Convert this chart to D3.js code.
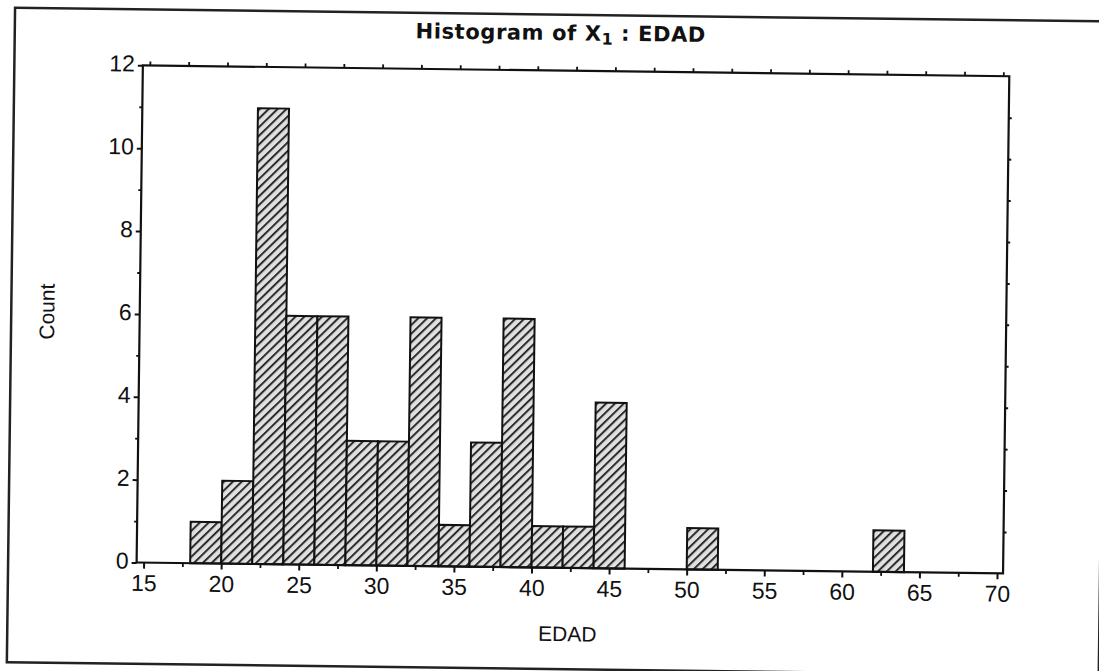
<!DOCTYPE html>
<html>
<head>
<meta charset="utf-8">
<script src="https://cdn.jsdelivr.net/npm/d3@7"></script>
<style>
  html, body { margin: 0; padding: 0; background: #fff; }
  svg { display: block; }
</style>
</head>
<body>
<svg id="chart" width="1099" height="671"></svg>
<script>
// ---- data ----
const binStarts = [18, 20, 22, 24, 26, 28, 30, 32, 34, 36, 38, 40, 42, 44, 50, 62];
const binEnds   = [20, 22, 24, 26, 28, 30, 32, 34, 36, 38, 40, 42, 44, 46, 52, 64];
const counts    = [1, 2, 11, 6, 6, 3, 3, 6, 1, 3, 6, 1, 1, 4, 1, 1];
const xTickValues = [15, 20, 25, 30, 35, 40, 45, 50, 55, 60, 65, 70];
const xMinorTicks = [17.5, 22.5, 27.5, 32.5, 37.5, 42.5, 47.5, 52.5, 57.5, 62.5, 67.5];
const yTickValues = [0, 2, 4, 6, 8, 10, 12];
const yMinorTicks = [1, 3, 5, 7, 9, 11];
const yRightTicks = [1, 2, 3, 4, 5, 6, 7, 8, 9, 10, 11];
const titleMain = "Histogram of X";
const titleSub = "1";
const titleRest = " : EDAD";
const xLabel = "EDAD";
const yLabel = "Count";

// ---- layout ----
const plot = { left: 139.5, right: 1006, top: 70.5, bottom: 567.7 };
const x = d3.scaleLinear().domain([15, 70]).range([146.5, 1000]);
const y = d3.scaleLinear().domain([0, 12]).range([plot.bottom, plot.top]);

const svg = d3.select("#chart");
const defs = svg.append("defs");
const pat = defs.append("pattern")
  .attr("id", "hatch")
  .attr("patternUnits", "userSpaceOnUse")
  .attr("width", 6.2).attr("height", 10)
  .attr("patternTransform", "rotate(45)");
pat.append("rect").attr("width", 6.2).attr("height", 10).attr("fill", "#e0e0e0");
pat.append("rect").attr("x", 0).attr("width", 2).attr("height", 10).attr("fill", "#2a2a2a");

const g = svg.append("g").attr("transform", "rotate(0.72,550,335)");

// outer frame
g.append("rect")
  .attr("x", 11).attr("y", 14.5)
  .attr("width", 1092).attr("height", 654.5)
  .attr("fill", "none").attr("stroke", "#222").attr("stroke-width", 2.5);

// bars
g.append("g").selectAll("rect").data(counts).join("rect")
  .attr("x", (d, i) => x(binStarts[i]))
  .attr("width", (d, i) => x(binEnds[i]) - x(binStarts[i]))
  .attr("y", d => y(d))
  .attr("height", d => y(0) - y(d))
  .attr("fill", "url(#hatch)")
  .attr("stroke", "#111").attr("stroke-width", 2);

const font = "'Liberation Sans', Arial, sans-serif";

// bottom axis
const xAxis = d3.axisBottom(x).tickValues(xTickValues).tickSize(6).tickPadding(6)
  .tickFormat(d3.format("d"));
const gx = g.append("g").attr("transform", `translate(0,${plot.bottom})`).call(xAxis);
gx.select(".domain").remove();
gx.selectAll(".tick line").attr("stroke", "#111").attr("stroke-width", 2);
gx.selectAll(".tick text").attr("font-family", font).attr("font-size", 23).attr("fill", "#111");
const xMinor = d3.axisBottom(x).tickValues(xMinorTicks).tickSize(4).tickFormat("");
const gxm = g.append("g").attr("transform", `translate(0,${plot.bottom})`).call(xMinor);
gxm.select(".domain").remove();
gxm.selectAll(".tick line").attr("stroke", "#111").attr("stroke-width", 1.8);

// top axis ticks
const xTop = d3.axisTop(x).tickValues(xTickValues.concat(xMinorTicks)).tickSize(4).tickFormat("");
const gxt = g.append("g").attr("transform", `translate(0,${plot.top})`).call(xTop);
gxt.select(".domain").remove();
gxt.selectAll(".tick line").attr("stroke", "#111").attr("stroke-width", 1.8);

// left axis
const yAxis = d3.axisLeft(y).tickValues(yTickValues).tickSize(5).tickPadding(3)
  .tickFormat(d3.format("d"));
const gy = g.append("g").attr("transform", `translate(${plot.left},0)`).call(yAxis);
gy.select(".domain").remove();
gy.selectAll(".tick line").attr("stroke", "#111").attr("stroke-width", 2);
gy.selectAll(".tick text").attr("font-family", font).attr("font-size", 23).attr("fill", "#111")
  .attr("dy", "0.25em");
const yMinor = d3.axisLeft(y).tickValues(yMinorTicks).tickSize(3).tickFormat("");
const gym = g.append("g").attr("transform", `translate(${plot.left},0)`).call(yMinor);
gym.select(".domain").remove();
gym.selectAll(".tick line").attr("stroke", "#111").attr("stroke-width", 1.8);

// right axis ticks
const yRight = d3.axisRight(y).tickValues(yRightTicks).tickSize(3).tickFormat("");
const gyr = g.append("g").attr("transform", `translate(${plot.right},0)`).call(yRight);
gyr.select(".domain").remove();
gyr.selectAll(".tick line").attr("stroke", "#111").attr("stroke-width", 2);

// plot box
g.append("rect")
  .attr("x", plot.left).attr("y", plot.top)
  .attr("width", plot.right - plot.left).attr("height", plot.bottom - plot.top)
  .attr("fill", "none").attr("stroke", "#111").attr("stroke-width", 2.2);

// title
const t = g.append("text")
  .attr("x", 557).attr("y", 40)
  .attr("text-anchor", "middle")
  .attr("font-family", "'DejaVu Sans', sans-serif")
  .attr("letter-spacing", 0.6)
  .attr("font-weight", "bold").attr("font-size", 21).attr("fill", "#111");
t.append("tspan").text(titleMain);
t.append("tspan").attr("font-size", 16).attr("dy", 4).text(titleSub);
t.append("tspan").attr("dy", -4).text(titleRest);

// axis labels
g.append("text")
  .attr("x", 571).attr("y", 641)
  .attr("text-anchor", "middle")
  .attr("font-family", font).attr("font-size", 21).attr("fill", "#111")
  .text(xLabel);

g.append("text")
  .attr("transform", "translate(54,318) rotate(-90)")
  .attr("text-anchor", "middle")
  .attr("font-family", font).attr("font-size", 21).attr("fill", "#111")
  .text(yLabel);
</script>
</body>
</html>
